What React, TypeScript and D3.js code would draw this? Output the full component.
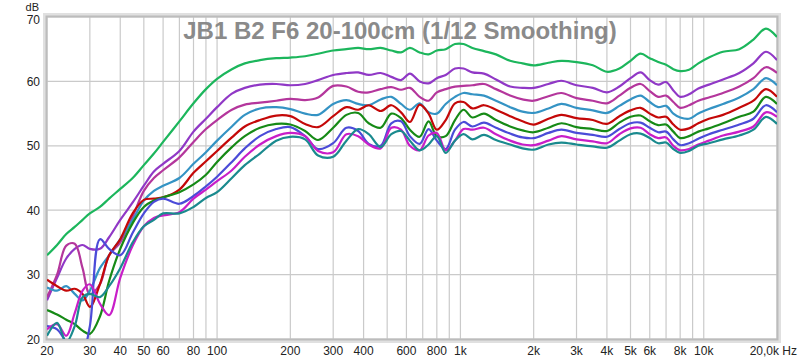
import * as d3 from "d3";

// frequency grid (Hz) shared by all measurements
const freqs = [
  20, 22, 24, 26, 28, 30, 33, 36, 40, 45, 50, 55, 60, 70, 80, 90, 100, 115, 130, 150,
  175, 200, 230, 260, 300, 340, 380, 420, 470, 520, 570, 620, 680, 740, 800, 870, 950, 1030, 1120, 1250,
  1400, 1600, 1800, 2000, 2300, 2600, 3000, 3500, 4000, 4500, 5000, 5500, 6000, 6500, 7000, 7500, 8000, 8700, 9500, 10500,
  12000, 14000, 16000, 18000, 20000,
];

// SPL in dB per mic distance
const db20cm = [
  33.0, 34.6, 36.3, 37.4, 38.5, 39.5, 40.5, 41.8, 43.3, 45.0, 47.0, 48.8, 50.6, 53.8, 56.6, 58.8, 60.4, 61.9, 62.8, 63.3,
  63.6, 63.7, 63.9, 64.3, 64.8, 65.0, 65.2, 65.0, 65.2, 64.8, 64.5, 65.2, 64.5, 64.2, 64.8, 65.0, 65.8, 65.8, 65.2, 64.7,
  64.2, 63.2, 62.8, 62.5, 62.9, 63.2, 63.0, 62.5, 61.5, 62.0, 63.2, 64.3, 63.6, 63.0, 62.6, 61.9, 61.6, 61.8, 62.8, 63.7,
  64.6, 65.0, 66.5, 68.2, 66.9,
];
const db30cm = [
  26.0, 29.5, 32.5, 34.0, 34.6, 34.0, 34.0, 35.8, 38.5, 41.2, 43.8, 46.0, 47.2, 49.2, 52.2, 54.2, 56.0, 58.1, 59.0, 59.5,
  59.6, 59.4, 59.6, 60.2, 61.0, 61.3, 61.4, 61.0, 61.3, 60.7, 60.2, 61.2, 60.0, 59.7, 60.5, 61.0, 62.0, 62.0, 61.4, 61.2,
  60.3, 59.2, 59.0, 59.0, 59.6, 60.1, 59.4, 59.0, 58.3, 59.2, 60.5, 61.4, 60.2, 59.5, 59.9, 58.6, 57.6, 58.0, 58.9, 59.5,
  60.3, 61.3, 62.8, 64.6, 63.3,
];
const db40cm = [
  26.5, 30.0, 34.5, 34.8, 31.0, 27.0, 28.5, 33.0, 35.0, 39.0, 43.0, 45.0, 46.2, 48.2, 50.6, 52.6, 54.0, 55.6, 56.4, 56.7,
  57.0, 57.3, 57.1, 57.5, 59.3, 59.2, 58.4, 58.3, 58.8, 59.1, 58.7, 59.0, 57.6, 57.0, 58.3, 58.8, 59.2, 59.3, 59.4, 59.6,
  58.8, 57.8, 57.2, 57.0, 57.7, 58.2, 57.4, 57.0, 56.6, 57.8, 59.0, 59.6, 58.5, 57.6, 57.8, 56.8, 55.9, 56.3, 57.0, 57.5,
  58.2, 59.2, 60.5, 62.2, 61.3,
];
const db50cm = [
  28.0, 27.5, 28.2, 27.0, 26.0, 27.5, 31.0, 33.0, 35.5, 38.5, 41.5, 43.0, 43.8, 45.0, 47.2, 49.0, 50.8, 53.0, 54.8, 55.8,
  56.0, 55.7, 55.0, 54.8, 56.5, 57.1, 56.5, 56.3, 57.2, 57.6, 56.5, 55.6, 56.6, 55.2, 55.0, 56.5, 57.6, 58.2, 58.0, 57.8,
  57.0, 56.0, 55.3, 55.1, 55.8, 56.5, 55.9, 55.5, 55.1, 56.2, 57.2, 57.8, 56.8, 56.0, 56.2, 55.0, 54.4, 54.2, 55.0, 55.7,
  56.5, 57.5, 58.8, 60.5, 59.4,
];
const db60cm = [
  29.2, 28.2, 27.5, 27.8, 27.0, 25.0, 28.5, 33.0, 35.5, 39.5, 41.6, 41.8, 42.0, 43.2, 45.8, 47.6, 49.2, 51.3, 53.0, 54.0,
  54.7, 54.6, 53.4, 52.9, 54.6, 56.0, 55.6, 56.3, 55.4, 56.3, 55.2, 53.7, 56.4, 55.0, 52.5, 54.0, 56.6, 56.8, 55.8, 56.3,
  55.6, 54.6, 53.8, 53.3, 54.2, 54.8, 54.3, 54.0, 53.4, 54.6, 55.5, 55.9, 55.0, 54.4, 54.5, 53.3, 52.5, 52.7, 53.5, 54.2,
  54.8, 55.9, 57.0, 58.8, 57.6,
];
const db70cm = [
  24.5, 23.8, 23.0, 22.3, 21.3, 20.8, 23.5, 29.0, 34.0, 38.0, 40.5, 41.5, 42.0, 42.8, 44.0, 45.5, 47.5, 49.8, 51.5, 52.8,
  53.4, 53.3, 52.3, 50.9, 52.8, 54.8, 55.1, 53.5, 52.8, 55.0, 54.3, 52.5, 51.4, 53.8, 51.5, 51.5, 54.0, 55.6, 54.4, 55.0,
  54.0, 53.0, 52.4, 52.1, 52.8, 53.5, 52.9, 52.6, 52.3, 53.6, 54.5, 54.7, 53.8, 53.2, 53.3, 52.2, 51.2, 51.5, 52.2, 52.7,
  53.5, 54.5, 55.3, 57.6, 56.5,
];
const db80cm = [
  22.0, 21.5, 19.5, 18.0, 18.0, 22.0, 35.5, 34.0, 33.0, 36.5, 39.5, 41.3, 41.8, 41.0, 42.2, 43.7, 45.2, 47.5, 49.6, 51.5,
  52.6, 52.9, 51.5, 49.5, 50.4, 52.8, 52.3, 50.3, 50.0, 53.5, 53.8, 51.5, 50.3, 52.6, 50.8, 49.5, 52.5, 53.7, 53.0, 53.6,
  52.8, 51.9, 51.3, 51.2, 52.0, 52.5, 52.0, 51.7, 51.4, 52.6, 53.5, 53.6, 52.8, 52.1, 52.2, 51.0, 50.1, 50.4, 51.1, 51.8,
  52.5, 53.3, 54.2, 56.3, 55.2,
];
const db90cm = [
  21.5, 22.3, 20.5, 24.0, 27.5, 28.5, 25.5, 23.7, 29.5, 34.5, 37.5, 38.8, 39.2, 39.7, 41.8, 43.2, 44.5, 46.2, 48.3, 50.2,
  51.5, 52.0, 51.5, 49.2, 49.0, 51.8, 51.5, 50.2, 49.6, 52.8, 52.5, 50.0, 49.3, 51.6, 52.0, 49.3, 50.8, 52.6, 52.5, 52.8,
  51.8, 50.8, 50.2, 50.1, 50.8, 51.5, 51.0, 50.7, 50.4, 51.8, 52.7, 52.8, 51.8, 51.2, 51.3, 50.0, 49.3, 49.5, 50.2, 50.8,
  51.6, 52.2, 53.0, 55.2, 54.5,
];
const db100cm = [
  20.5, 22.5, 19.5, 22.0, 26.5, 27.0, 26.5, 28.2, 31.0, 35.0, 37.5, 38.5, 39.5, 39.5, 40.5, 41.9, 42.8, 45.0, 47.0, 48.8,
  50.8, 51.4, 51.0, 48.5, 48.3, 50.8, 52.6, 51.8, 49.8, 51.8, 52.3, 50.8, 49.3, 50.2, 51.5, 48.9, 50.8, 51.8, 51.0, 51.7,
  50.9, 50.2, 49.6, 49.4, 50.2, 50.5, 50.2, 49.9, 49.7, 50.8, 51.8, 51.9, 51.2, 50.4, 50.5, 49.5, 48.9, 49.2, 50.0, 50.4,
  51.0, 51.6, 52.5, 54.5, 53.4,
];

const seriesNames = ["20cm", "30cm", "40cm", "50cm", "60cm", "70cm", "80cm", "90cm", "100cm"];
const seriesValues = [db20cm, db30cm, db40cm, db50cm, db60cm, db70cm, db80cm, db90cm, db100cm];
const seriesColors = [
  "#1cb65c", "#9038c6", "#b4369c", "#3493c4", "#c40808", "#168a16", "#4b4bd8", "#c81ec8", "#1a8a8e",
];

const gridFreqs = [
  20, 30, 40, 50, 60, 70, 80, 90, 100, 200, 300, 400, 500, 600, 700, 800, 900, 1000,
  2000, 3000, 4000, 5000, 6000, 7000, 8000, 9000, 10000, 20000,
];
const xTickFreqs = [20, 30, 40, 50, 60, 80, 100, 200, 300, 400, 600, 800, 1000, 2000, 3000, 4000, 5000, 6000, 8000, 10000];
const xTickLabels = ["20", "30", "40", "50", "60", "80", "100", "200", "300", "400", "600", "800", "1k", "2k", "3k", "4k", "5k", "6k", "8k", "10k"];
const yTicks = [20, 30, 40, 50, 60, 70];

const title = "JB1 B2 F6 20-100cm (1/12 Smoothing)";

const width = 800;
const height = 362;
const plot = { left: 47, right: 777, top: 17, bottom: 339 };
const font = "'Liberation Sans', Arial, sans-serif";

export default function App() {
  const x = d3.scaleLog().domain([20, 20000]).range([plot.left, plot.right]);
  const y = d3.scaleLinear().domain([20, 70]).range([plot.bottom, plot.top]);

  const line = d3
    .line<number>()
    .x((_, i) => x(freqs[i]))
    .y((d) => y(d))
    .curve(d3.curveCatmullRom.alpha(0.5));

  return (
    <svg
      width={width}
      height={height}
      style={{ position: "absolute", left: 0, top: 0, background: "#fff" }}
      fontFamily={font}
    >
      <defs>
        <clipPath id="plotClip">
          <rect x={plot.left} y={plot.top} width={plot.right - plot.left} height={plot.bottom - plot.top} />
        </clipPath>
      </defs>

      {/* grid */}
      {gridFreqs.map((f) => (
        <line key={"gx" + f} x1={x(f)} x2={x(f)} y1={plot.top} y2={plot.bottom} stroke="#cacaca" strokeWidth={1.2} />
      ))}
      {yTicks.map((v) => (
        <line key={"gy" + v} x1={plot.left} x2={plot.right} y1={y(v)} y2={y(v)} stroke="#cacaca" strokeWidth={1.2} />
      ))}

      {/* frame */}
      <rect
        x={plot.left - 2}
        y={plot.top - 2}
        width={plot.right - plot.left + 4}
        height={plot.bottom - plot.top + 4}
        fill="none"
        stroke="#e0e0e0"
        strokeWidth={4}
      />
      <rect
        x={plot.left - 0.5}
        y={plot.top - 0.5}
        width={plot.right - plot.left + 1}
        height={plot.bottom - plot.top + 1}
        fill="none"
        stroke="#bcbcbc"
        strokeWidth={2}
      />

      {/* title */}
      <text x={400} y={39} textAnchor="middle" fontSize={24} fontWeight="bold" fill="#8a8a8a">
        {title}
      </text>

      {/* curves */}
      <g clipPath="url(#plotClip)">
        {seriesValues.map((vals, i) => (
          <path
            key={seriesNames[i]}
            d={line(vals) || ""}
            fill="none"
            stroke={seriesColors[i]}
            strokeWidth={2.2}
            strokeLinejoin="round"
          />
        ))}
      </g>

      {/* y axis labels */}
      <text x={39} y={11} textAnchor="end" fontSize={11} fill="#222">
        dB
      </text>
      {yTicks.map((v) => (
        <text key={"ty" + v} x={40} y={v === 70 ? y(v) + 6.5 : y(v) + 4.5} textAnchor="end" fontSize={12} fill="#222">
          {v}
        </text>
      ))}

      {/* x axis labels */}
      {xTickFreqs.map((f, i) => (
        <text key={"tx" + f} x={x(f)} y={355} textAnchor="middle" fontSize={12} fill="#222">
          {xTickLabels[i]}
        </text>
      ))}
      <text x={797} y={355} textAnchor="end" fontSize={12} fill="#222">
        20,0k Hz
      </text>
    </svg>
  );
}
